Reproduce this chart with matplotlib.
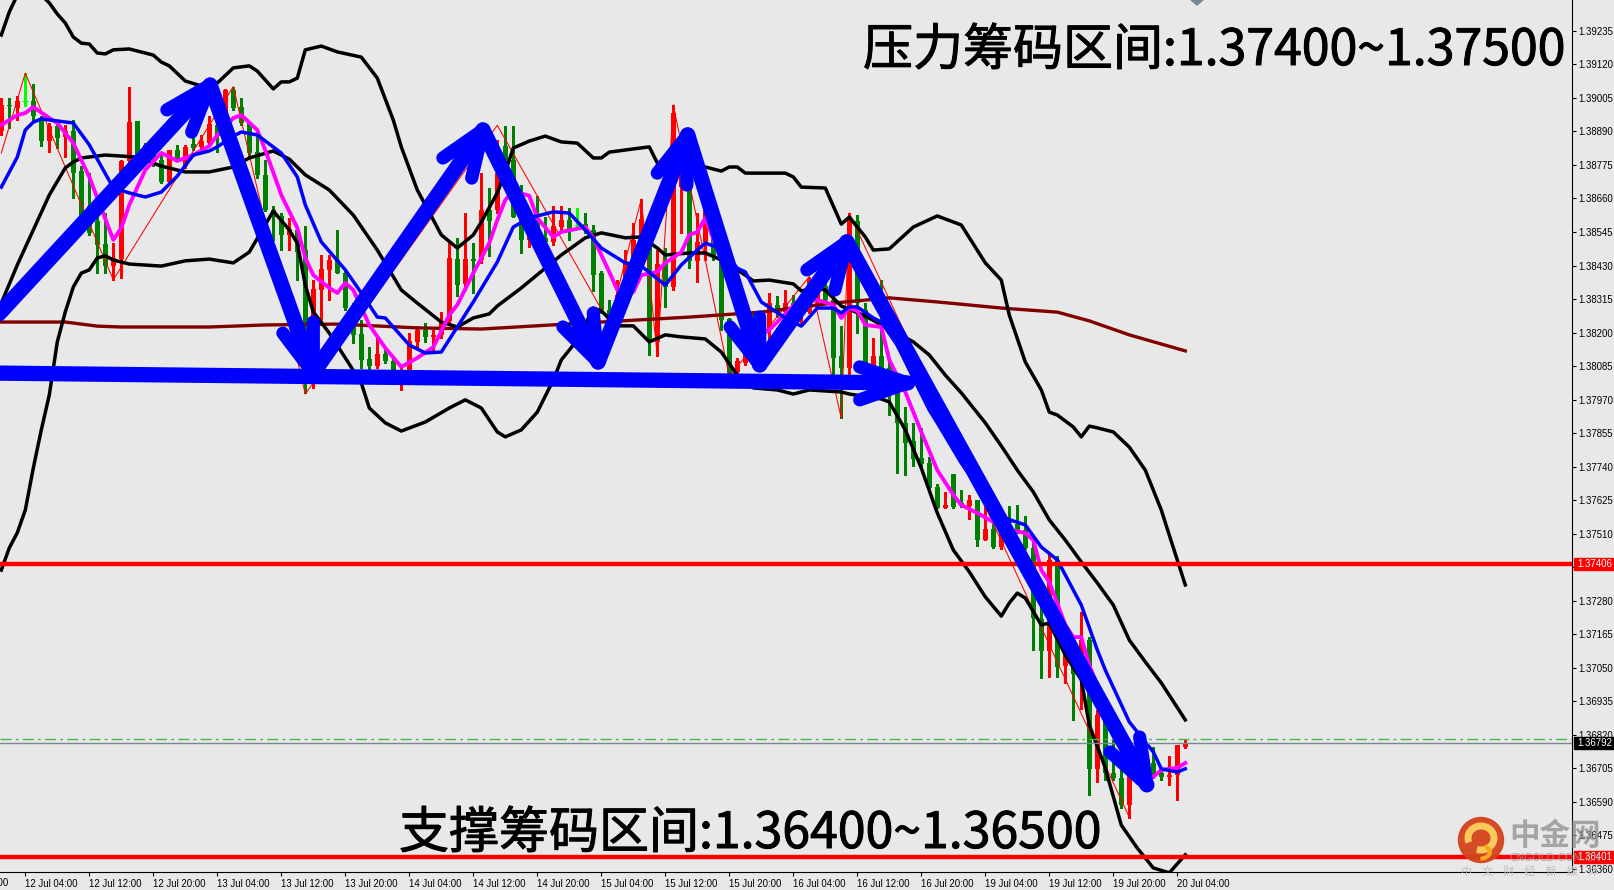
#!/usr/bin/env python3

import matplotlib
matplotlib.use("Agg")
import matplotlib.pyplot as plt
import matplotlib.patheffects as pe
from matplotlib.patches import Circle, Arc, Rectangle
from matplotlib.transforms import blended_transform_factory
import numpy as np

plt.rcParams['font.family'] = ['Noto Sans CJK SC', 'DejaVu Sans']

# H1 candles, first bar is 3 bars before 12 Jul 04:00
first_bar = -3
opens = [1.38890, 1.38981, 1.38970, 1.38996, 1.38993, 1.38936, 1.38856, 1.38907, 1.38871, 1.38890,
         1.38753, 1.38633, 1.38583, 1.38504, 1.38427, 1.38452, 1.38787, 1.38927, 1.38844, 1.38810,
         1.38793, 1.38718, 1.38825, 1.38770, 1.38848, 1.38836, 1.38852, 1.38913, 1.38919, 1.39033,
         1.38973, 1.38919, 1.38818, 1.38741, 1.38621, 1.38601, 1.38535, 1.38553, 1.38484, 1.38255,
         1.38347, 1.38415, 1.38450, 1.38404, 1.38284, 1.38196, 1.38110, 1.38086, 1.38127, 1.38101,
         1.38055, 1.38055, 1.38169, 1.38207, 1.38183, 1.38192, 1.38238, 1.38453, 1.38367, 1.38453,
         1.38450, 1.38621, 1.38621,
         1.38841, 1.38793, 1.38598, 1.38516, 1.38575, 1.38524, 1.38509, 1.38562, 1.38587, 1.38570,
         1.38572, 1.38553, 1.38404, 1.38278, 1.38244, 1.38329, 1.38444, 1.38516, 1.38589, 1.38169,
         1.38438, 1.38356, 1.38701, 1.38713, 1.38447, 1.38509, 1.38541, 1.38461, 1.38246, 1.38066,
         1.38095, 1.38232, 1.38129, 1.38209, 1.38295, 1.38272, 1.38301, 1.38278, 1.38272, 1.38312,
         1.38358, 1.38312, 1.38118, 1.38080, 1.38581, 1.38278, 1.38081, 1.38120,
         1.38077, 1.37992, 1.37889, 1.37828, 1.37769, 1.37751, 1.37669, 1.37599, 1.37714, 1.37614,
         1.37606, 1.37626,
         1.37488, 1.37526, 1.37465, 1.37551, 1.37543, 1.37522, 1.37459, 1.37216, 1.37108, 1.37419,
         1.37056, 1.37145, 1.37076, 1.37145, 1.36704, 1.36887, 1.36687, 1.36672, 1.36579, 1.36699,
         1.36682, 1.36722, 1.36687, 1.36676, 1.36682, 1.36777]
highs = [1.39004, 1.39004, 1.39010, 1.39090, 1.39054, 1.38942, 1.38919, 1.38919, 1.38913, 1.38930,
         1.38770, 1.38747, 1.38610, 1.38610, 1.38507, 1.38793, 1.39042, 1.38927, 1.38850, 1.38816,
         1.38821, 1.38827, 1.38844, 1.38844, 1.38867, 1.38879, 1.38942, 1.38964, 1.39035, 1.39044,
         1.39004, 1.38924, 1.38896, 1.38793, 1.38633, 1.38610, 1.38593, 1.38564, 1.38564, 1.38381,
         1.38467, 1.38467, 1.38553, 1.38415, 1.38300, 1.38244, 1.38150, 1.38186, 1.38141, 1.38120,
         1.38078, 1.38198, 1.38221, 1.38232, 1.38207, 1.38272, 1.38507, 1.38524, 1.38610, 1.38507,
         1.38747, 1.38696, 1.38861,
         1.38907, 1.38909, 1.38707, 1.38575, 1.38667, 1.38598, 1.38633, 1.38633, 1.38627, 1.38627,
         1.38610, 1.38570, 1.38410, 1.38312, 1.38381, 1.38484, 1.38575, 1.38658, 1.38604, 1.38484,
         1.38490, 1.38982, 1.38861, 1.38736, 1.38610, 1.38644, 1.38621, 1.38484, 1.38249, 1.38112,
         1.38164, 1.38266, 1.38244, 1.38335, 1.38324, 1.38347, 1.38329, 1.38324, 1.38392, 1.38369,
         1.38369, 1.38324, 1.38221, 1.38610, 1.38604, 1.38301, 1.38181, 1.38381,
         1.38106, 1.38014, 1.37946, 1.37889, 1.37871, 1.37774, 1.37680, 1.37654, 1.37714, 1.37660,
         1.37643, 1.37626,
         1.37603, 1.37545, 1.37522, 1.37605, 1.37608, 1.37570, 1.37500, 1.37282, 1.37442, 1.37433,
         1.37179, 1.37156, 1.37242, 1.37156, 1.36905, 1.36905, 1.36802, 1.36710, 1.36710, 1.36722,
         1.36779, 1.36779, 1.36704, 1.36747, 1.36785, 1.36807]
lows = [1.38879, 1.38901, 1.38930, 1.38976, 1.38924, 1.38839, 1.38821, 1.38833, 1.38804, 1.38661,
        1.38553, 1.38535, 1.38404, 1.38404, 1.38381, 1.38387, 1.38758, 1.38793, 1.38793, 1.38770,
        1.38713, 1.38713, 1.38793, 1.38764, 1.38827, 1.38827, 1.38844, 1.38821, 1.38913, 1.38964,
        1.38913, 1.38804, 1.38730, 1.38616, 1.38518, 1.38484, 1.38484, 1.38381, 1.37992, 1.38009,
        1.38244, 1.38312, 1.38404, 1.38278, 1.38164, 1.38078, 1.38066, 1.38078, 1.38095, 1.38055,
        1.38003, 1.38049, 1.38152, 1.38169, 1.38141, 1.38181, 1.38232, 1.38324, 1.38347, 1.38335,
        1.38438, 1.38461, 1.38610,
        1.38776, 1.38598, 1.38472, 1.38493, 1.38530, 1.38501, 1.38501, 1.38553, 1.38518, 1.38558,
        1.38541, 1.38341, 1.38266, 1.38232, 1.38238, 1.38318, 1.38427, 1.38495, 1.38124, 1.38120,
        1.38289, 1.38347, 1.38541, 1.38421, 1.38375, 1.38450, 1.38450, 1.38209, 1.38049, 1.38049,
        1.38089, 1.38124, 1.38124, 1.38164, 1.38255, 1.38255, 1.38244, 1.38232, 1.38266, 1.38301,
        1.38301, 1.38049, 1.37906, 1.38049, 1.38198, 1.38072, 1.38061, 1.38026,
        1.37917, 1.37719, 1.37711, 1.37742, 1.37742, 1.37666, 1.37597, 1.37597, 1.37599, 1.37603,
        1.37559, 1.37468,
        1.37488, 1.37459, 1.37458, 1.37534, 1.37511, 1.37457, 1.37111, 1.37013, 1.37017, 1.37019,
        1.36996, 1.36870, 1.36910, 1.36613, 1.36659, 1.36664, 1.36664, 1.36567, 1.36536, 1.36670,
        1.36670, 1.36670, 1.36664, 1.36647, 1.36596, 1.36773]
closes = [1.38981, 1.38976, 1.38996, 1.38996, 1.38942, 1.38856, 1.38909, 1.38869, 1.38890, 1.38749,
          1.38587, 1.38541, 1.38501, 1.38427, 1.38455, 1.38787, 1.38922, 1.38810, 1.38810, 1.38793,
          1.38718, 1.38825, 1.38799, 1.38836, 1.38833, 1.38856, 1.38916, 1.38873, 1.39033, 1.38970,
          1.38919, 1.38816, 1.38741, 1.38621, 1.38598, 1.38533, 1.38555, 1.38478, 1.38129, 1.38349,
          1.38418, 1.38450, 1.38404, 1.38284, 1.38192, 1.38106, 1.38084, 1.38127, 1.38101, 1.38066,
          1.38066, 1.38172, 1.38209, 1.38183, 1.38192, 1.38238, 1.38455, 1.38364, 1.38452, 1.38444,
          1.38621, 1.38583, 1.38747,
          1.38793, 1.38598, 1.38516, 1.38530, 1.38553, 1.38509, 1.38566, 1.38587, 1.38553, 1.38570,
          1.38547, 1.38398, 1.38278, 1.38244, 1.38329, 1.38444, 1.38516, 1.38589, 1.38175, 1.38436,
          1.38356, 1.38953, 1.38804, 1.38444, 1.38512, 1.38621, 1.38461, 1.38244, 1.38061, 1.38101,
          1.38129, 1.38129, 1.38209, 1.38301, 1.38266, 1.38301, 1.38278, 1.38301, 1.38383, 1.38347,
          1.38312, 1.38114, 1.38078, 1.38585, 1.38301, 1.38089, 1.38120, 1.38049,
          1.37992, 1.37889, 1.37822, 1.37766, 1.37749, 1.37668, 1.37599, 1.37607, 1.37603, 1.37606,
          1.37626, 1.37488,
          1.37526, 1.37465, 1.37511, 1.37545, 1.37522, 1.37459, 1.37219, 1.37108, 1.37419, 1.37053,
          1.37145, 1.37030, 1.37145, 1.36704, 1.36887, 1.36687, 1.36672, 1.36579, 1.36682, 1.36682,
          1.36756, 1.36676, 1.36676, 1.36682, 1.36785, 1.36790]

# bollinger upper
upper_t = [-3, -2, -1, 0, 1, 2, 3, 4, 5, 6, 7, 8, 9, 10, 11, 13, 16, 17, 18, 20, 22, 24, 26, 28, 29, 31, 32, 33, 34,
           35, 37, 39, 42, 44, 46, 47, 49, 50, 52, 54, 56, 57, 59, 60, 61, 63, 65, 67, 69, 71, 72, 73, 76, 78, 79,
           85, 87, 88, 89, 90, 95, 96, 97, 100, 102, 103, 105, 106, 108, 111, 114, 117, 120, 122, 123, 125, 127,
           128, 129, 131, 132, 133, 134, 136, 138, 140, 142, 143, 145]
upper_v = [1.39221, 1.39300, 1.39358, 1.39389, 1.39389, 1.39358, 1.39331, 1.39293, 1.39262, 1.39214, 1.39193, 1.39190,
           1.39159, 1.39156, 1.39170, 1.39173, 1.39152, 1.39128, 1.39115, 1.39063, 1.39046, 1.39056, 1.39108, 1.39115,
           1.39097, 1.39036, 1.39060, 1.39060, 1.39073, 1.39170, 1.39183, 1.39163, 1.39145, 1.39073, 1.38929, 1.38837,
           1.38689, 1.38638, 1.38535, 1.38490, 1.38535, 1.38579, 1.38679, 1.38751, 1.38833, 1.38857, 1.38874, 1.38854,
           1.38850, 1.38799, 1.38799, 1.38819, 1.38830, 1.38837, 1.38782, 1.38768, 1.38754, 1.38768, 1.38768, 1.38747,
           1.38747, 1.38734, 1.38699, 1.38696, 1.38572, 1.38596, 1.38528, 1.38483, 1.38487, 1.38562, 1.38600, 1.38569,
           1.38439, 1.38380, 1.38260, 1.38099, 1.38003, 1.37927, 1.37917, 1.37876, 1.37842, 1.37879, 1.37873, 1.37859,
           1.37807, 1.37728, 1.37591, 1.37505, 1.37334]

# bollinger middle
middle_t = [-3, -1, 1, 3, 5, 6, 7, 10, 14, 17, 20, 23, 26, 28, 31, 33, 35, 38, 41, 44, 47, 49, 52, 54, 56, 58, 59, 62,
            65, 67, 70, 72, 75, 77, 79, 80, 83, 85, 87, 90, 91, 93, 96, 97, 99, 100, 102, 105, 107, 111, 113, 115,
            117, 120, 122, 124, 126, 128, 130, 132, 134, 136, 138, 140, 142, 145]
middle_v = [1.38301, 1.38432, 1.38552, 1.38672, 1.38765, 1.38785, 1.38799, 1.38809, 1.38802, 1.38771, 1.38751, 1.38751,
            1.38768, 1.38799, 1.38823, 1.38795, 1.38741, 1.38689, 1.38603, 1.38483, 1.38346, 1.38301, 1.38236, 1.38219,
            1.38250, 1.38264, 1.38291, 1.38353, 1.38421, 1.38466, 1.38525, 1.38542, 1.38525, 1.38528, 1.38490, 1.38466,
            1.38473, 1.38473, 1.38449, 1.38397, 1.38377, 1.38380, 1.38367, 1.38343, 1.38353, 1.38346, 1.38291, 1.38257,
            1.38226, 1.38168, 1.38123, 1.38054, 1.37993, 1.37890, 1.37811, 1.37728, 1.37653, 1.37557, 1.37488, 1.37413,
            1.37341, 1.37265, 1.37145, 1.37070, 1.36998, 1.36871]

# bollinger lower
lower_t = [-3, -2, -1, 0, 1, 2, 3, 4, 5, 6, 7, 8, 9, 10, 11, 13, 17, 20, 23, 26, 28, 31, 33, 34, 35, 36, 38, 40, 42, 43,
           45, 47, 50, 53, 55, 57, 59, 60, 62, 64, 66, 67, 69, 71, 72, 74, 76, 78, 80, 82, 85, 87, 89, 91, 94, 96, 98,
           102, 103, 107, 108, 110, 112, 114, 116, 118, 120, 122, 123, 124, 125, 127, 128, 130, 132, 133, 135, 137,
           139, 141, 143, 145]
lower_v = [1.37385, 1.37461, 1.37513, 1.37591, 1.37735, 1.37866, 1.37986, 1.38168, 1.38271, 1.38356, 1.38404, 1.38415,
           1.38456, 1.38463, 1.38449, 1.38435, 1.38428, 1.38446, 1.38452, 1.38439, 1.38476, 1.38617, 1.38552, 1.38507,
           1.38363, 1.38271, 1.38198, 1.38113, 1.38027, 1.37941, 1.37890, 1.37862, 1.37893, 1.37941, 1.37969, 1.37941,
           1.37859, 1.37842, 1.37866, 1.37927, 1.38037, 1.38106, 1.38174, 1.38284, 1.38274, 1.38223, 1.38223, 1.38168,
           1.38192, 1.38185, 1.38178, 1.38133, 1.38054, 1.38010, 1.38003, 1.37989, 1.38003, 1.37996, 1.37989, 1.37972,
           1.37962, 1.37866, 1.37735, 1.37581, 1.37454, 1.37379, 1.37293, 1.37227, 1.37272, 1.37306, 1.37289, 1.37197,
           1.37203, 1.37094, 1.37008, 1.36854, 1.36706, 1.36510, 1.36431, 1.36363, 1.36346, 1.36408]

# fast moving average (magenta)
fast_t = [-3, -1, 0, 1, 3, 4, 6, 8, 9, 11, 12, 13, 15, 17, 19, 21, 23, 24, 25, 26, 27, 29, 30, 32, 34, 35, 36, 38, 39,
          40, 41, 43, 45, 47, 49, 51, 53, 54, 56, 58, 59, 60, 61, 63, 64, 66, 67, 70, 71, 73, 74, 76, 77, 79, 80, 82,
          83, 84, 85, 87, 89, 91, 93, 95, 97, 99, 101, 102, 103, 104, 105, 107, 108, 110, 112, 114, 116, 117, 119,
          121, 123, 125, 126, 127, 128, 130, 131, 132, 133, 135, 137, 139, 141, 142, 143, 144, 145]
fast_v = [1.38912, 1.38946, 1.38953, 1.38974, 1.38936, 1.38919, 1.38850, 1.38734, 1.38662, 1.38518, 1.38559, 1.38638,
          1.38758, 1.38816, 1.38789, 1.38809, 1.38840, 1.38878, 1.38905, 1.38936, 1.38946, 1.38895, 1.38826, 1.38672,
          1.38559, 1.38456, 1.38397, 1.38353, 1.38336, 1.38370, 1.38346, 1.38226, 1.38147, 1.38082, 1.38113, 1.38150,
          1.38260, 1.38295, 1.38404, 1.38507, 1.38586, 1.38655, 1.38686, 1.38669, 1.38593, 1.38528, 1.38545, 1.38562,
          1.38525, 1.38408, 1.38346, 1.38339, 1.38397, 1.38408, 1.38439, 1.38476, 1.38535, 1.38545, 1.38593, 1.38449,
          1.38295, 1.38174, 1.38209, 1.38264, 1.38319, 1.38312, 1.38295, 1.38250, 1.38284, 1.38274, 1.38226, 1.38219,
          1.38106, 1.37996, 1.37859, 1.37728, 1.37643, 1.37608, 1.37581, 1.37550, 1.37523, 1.37512, 1.37488, 1.37385,
          1.37344, 1.37197, 1.37155, 1.37155, 1.37059, 1.36922, 1.36785, 1.36699, 1.36675, 1.36699, 1.36703, 1.36706,
          1.36723]

# slow moving average (blue)
slow_t = [-3, -1, 0, 1, 2, 6, 8, 11, 13, 15, 17, 19, 21, 23, 24, 26, 27, 29, 32, 34, 35, 37, 40, 42, 44, 45, 48, 50, 52,
          54, 56, 59, 61, 63, 66, 68, 70, 72, 75, 77, 80, 82, 84, 85, 87, 89, 90, 92, 95, 97, 99, 101, 102, 103, 104,
          106, 107, 109, 111, 113, 114, 117, 120, 122, 125, 127, 129, 132, 134, 135, 138, 141, 142, 144, 145]
slow_v = [1.38699, 1.38802, 1.38895, 1.38922, 1.38933, 1.38919, 1.38844, 1.38696, 1.38679, 1.38665, 1.38682, 1.38737,
          1.38809, 1.38823, 1.38837, 1.38874, 1.38888, 1.38878, 1.38816, 1.38734, 1.38638, 1.38511, 1.38415, 1.38336,
          1.38253, 1.38250, 1.38157, 1.38130, 1.38133, 1.38219, 1.38305, 1.38442, 1.38562, 1.38593, 1.38614, 1.38610,
          1.38552, 1.38490, 1.38439, 1.38428, 1.38363, 1.38432, 1.38483, 1.38507, 1.38487, 1.38421, 1.38408, 1.38305,
          1.38250, 1.38222, 1.38284, 1.38284, 1.38267, 1.38288, 1.38288, 1.38250, 1.38236, 1.38157, 1.38044, 1.37934,
          1.37890, 1.37752, 1.37636, 1.37567, 1.37540, 1.37464, 1.37420, 1.37265, 1.37111, 1.37042, 1.36864, 1.36761,
          1.36703, 1.36692, 1.36703]

# long moving average (dark red)
long_t = [-3, 5, 9, 12, 23, 30, 39, 49, 57, 72, 83, 92, 101, 108, 114, 122, 129, 133, 138, 145]
long_v = [1.38236, 1.38236, 1.38222, 1.38219, 1.38219, 1.38226, 1.38229, 1.38216, 1.38212, 1.38236, 1.38253, 1.38270,
          1.38301, 1.38319, 1.38305, 1.38284, 1.38270, 1.38240, 1.38192, 1.38137]

# zigzag swing points
zigzag_t = [-3, 0, 11, 26, 35, 59, 73, 77, 79, 81, 88, 98, 102, 103, 138]
zigzag_v = [1.38816, 1.39090, 1.38381, 1.39044, 1.37989, 1.38911, 1.38232, 1.38658, 1.38120, 1.38981, 1.38049, 1.38392,
            1.37906, 1.38610, 1.36537]

# hand drawn arrows: tail, tip and the two barb ends
arrow_tail_t = [-4, 23.1, 36.0, 57.2, 71.6, 82.8, 91.8, 102.7, -4]
arrow_tail_v = [1.38243, 1.39049, 1.38061, 1.38895, 1.38099, 1.38878, 1.38089, 1.38511, 1.38061]
arrow_tip_t = [23.1, 36.0, 57.2, 71.6, 82.8, 91.8, 102.7, 140.2, 110.3]
arrow_tip_v = [1.39049, 1.38061, 1.38895, 1.38099, 1.38878, 1.38089, 1.38511, 1.36648, 1.38027]
barb1_t = [17.7, 32.2, 52.2, 67.2, 79.0, 88.1, 97.7, 135.6, 104.3]
barb1_v = [1.38964, 1.38198, 1.38799, 1.38219, 1.38747, 1.38219, 1.38415, 1.36761, 1.38082]
barb2_t = [20.8, 36.0, 55.8, 71.0, 82.7, 91.8, 101.2, 139.3, 104.3]
barb2_v = [1.38888, 1.38236, 1.38730, 1.38267, 1.38706, 1.38253, 1.38346, 1.36812, 1.37969]

# horizontal levels
resistance = 1.37406
support = 1.36401
last_price = 1.36792
ask_price = 1.36805

# axes
ytick_top = 1.39235
ytick_step = 0.00115
ytick_count = 26
xtick_t = list(range(0, 145, 8))
xtick_labels = ['12 Jul 04:00', '12 Jul 12:00', '12 Jul 20:00', '13 Jul 04:00', '13 Jul 12:00', '13 Jul 20:00',
                '14 Jul 04:00', '14 Jul 12:00', '14 Jul 20:00', '15 Jul 04:00', '15 Jul 12:00', '15 Jul 20:00',
                '16 Jul 04:00', '16 Jul 12:00', '16 Jul 20:00', '19 Jul 04:00', '19 Jul 12:00', '19 Jul 20:00',
                '20 Jul 04:00']

W, H = 1615, 890
BG = '#E8E8E8'
TICKFONT = 'Liberation Sans'

fig = plt.figure(figsize=(W / 100, H / 100), dpi=100, facecolor=BG)
ax = fig.add_axes([0, 1 - 872 / H, 1572 / W, 872 / H], facecolor=BG)
ax.set_xlim(-3.1625, 193.34)
ax.set_ylim(1.36349, 1.39341)

bars = first_bar + np.arange(len(opens))
o = np.array(opens)
c = np.array(closes)
colors = np.where(c > o, '#FF0000', np.where(c < o, '#008000', '#00FF00'))

ax.vlines(bars, lows, highs, colors=colors, lw=0.75, zorder=2, antialiased=False)
ax.bar(bars, np.abs(c - o), bottom=np.minimum(o, c), width=0.64, color=colors, zorder=2, antialiased=False)
# doji bars have no body
doji = c == o
ax.hlines(c[doji], bars[doji] - 0.35, bars[doji] + 0.35, colors='#00FF00', lw=0.75, zorder=2)

ax.plot(zigzag_t, zigzag_v, color='#FF0000', lw=0.75, zorder=3)
ax.plot(long_t, long_v, color='#800000', lw=2.4, zorder=3)
for t, v in [(upper_t, upper_v), (middle_t, middle_v), (lower_t, lower_v)]:
    ax.plot(t, v, color='black', lw=2.5, zorder=4)
ax.plot(fast_t, fast_v, color='#FF00FF', lw=2.8, zorder=5)
ax.plot(slow_t, slow_v, color='#0000FF', lw=2.5, zorder=6)

ax.axhline(ask_price, color='#46B946', lw=1, ls=(0, (8, 3, 2, 3)), zorder=6)
ax.axhline(last_price, color='#778899', lw=1, zorder=6)
ax.axhline(resistance, color='#FF0000', lw=3.2, zorder=7)
ax.axhline(support, color='#FF0000', lw=3.2, zorder=7)

# the hand drawn blue arrows
for i in range(len(arrow_tip_t)):
    ax.plot([arrow_tail_t[i], arrow_tip_t[i]], [arrow_tail_v[i], arrow_tip_v[i]],
            color='#0000FF', lw=11, solid_capstyle='round', zorder=8)
    ax.plot([barb1_t[i], arrow_tip_t[i], barb2_t[i]], [barb1_v[i], arrow_tip_v[i], barb2_v[i]],
            color='#0000FF', lw=9.5, solid_capstyle='round', solid_joinstyle='round', zorder=8)

# spines and ticks
ax.spines['top'].set_visible(False)
ax.spines['left'].set_visible(False)
ax.yaxis.tick_right()
yticks = [ytick_top - i * ytick_step for i in range(ytick_count)]
ax.set_yticks(yticks)
ax.set_yticklabels(['%.5f' % v for v in yticks], fontsize=6.9, family=TICKFONT)
ax.tick_params(axis='y', length=3, width=0.8, pad=1.5, color='black')
ax.set_xticks(xtick_t)
ax.set_xticklabels(xtick_labels, fontsize=6.9, family=TICKFONT, ha='left')
ax.tick_params(axis='x', length=3, width=0.8, pad=2, color='black')

# the label for the tick left of the window
ax.text(-8, 1.36349 - 0.00020, '9 Jul 20:00', fontsize=6.9, family=TICKFONT, ha='left', va='top', clip_on=False)

# price boxes on the scale
trans = blended_transform_factory(ax.transAxes, ax.transData)
for price, box, fg in [(resistance, '#FF0000', 'white'), (last_price, 'black', 'white'), (support, '#FF0000', 'white')]:
    ax.add_patch(Rectangle((1.0013, price - 0.00021), 0.0265, 0.00042, transform=trans, color=box,
                           clip_on=False, zorder=9))
    ax.text(1.0035, price, '%.5f' % price, transform=trans, color=fg, fontsize=6.9, family=TICKFONT,
            va='center', ha='left', clip_on=False, zorder=10)

# overlay in pixels for the captions and the watermark
over = fig.add_axes([0, 0, 1, 1], facecolor='none')
over.set_xlim(0, W)
over.set_ylim(H, 0)
over.axis('off')

heavy = [pe.withStroke(linewidth=0.7, foreground='black')]
over.text(863, 51, '压力筹码区间:1.37400~1.37500', fontsize=36, color='black', va='center', ha='left',
          path_effects=heavy)
over.text(399, 834, '支撑筹码区间:1.36400~1.36500', fontsize=36, color='black', va='center', ha='left',
          path_effects=heavy)

# marker at the top edge
over.fill([1191, 1203, 1197], [0, 0, 5], color='#778899')

# watermark
over.add_patch(Circle((1481, 840), 22.5, color='#D4421C', alpha=0.95))
over.add_patch(Arc((1481, 838), 26, 24, theta1=-200, theta2=110, color='#F8C95A', lw=5))
over.add_patch(Arc((1478, 852), 24, 14, theta1=-40, theta2=70, color='#F8A820', lw=3))
over.text(1555, 836, '中金网', fontsize=22, fontweight='bold', color='#8E8E8E', alpha=0.75, ha='center', va='center')
over.text(1555, 858, 'CNGOLD.COM.CN', fontsize=7.5, color='#9A9A9A', alpha=0.8, ha='center', va='center',
          family='DejaVu Sans')
over.text(1530, 871, '中    文    财    经    新    媒    体', fontsize=8, color='#BDBDBD', alpha=0.9,
          ha='center', va='center')

fig.savefig('out.png', dpi=100, facecolor=BG)
